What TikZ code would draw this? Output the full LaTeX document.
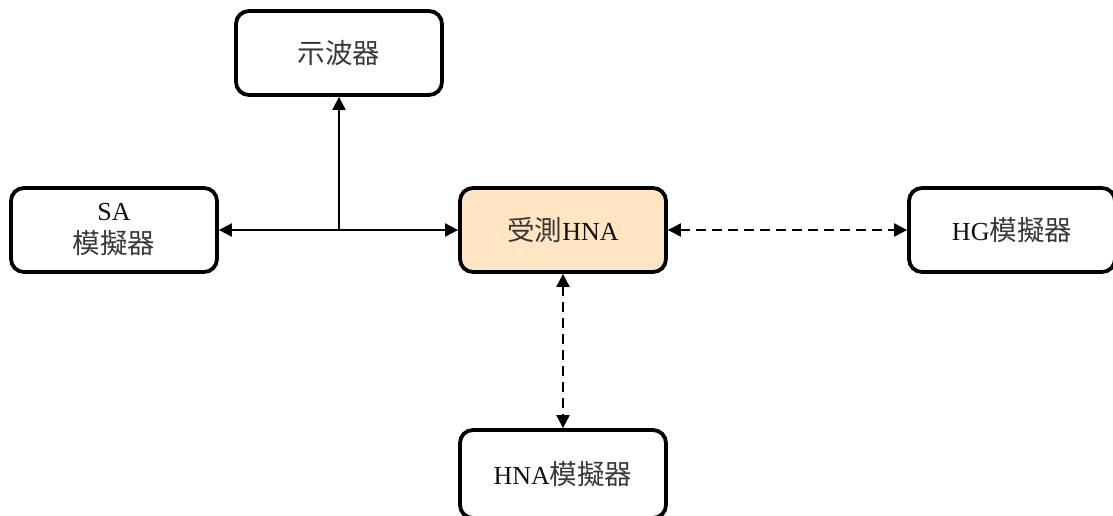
\documentclass[tikz,border=0pt]{standalone}
\usepackage{fontspec}
\setmainfont{Liberation Serif}
\newfontfamily\cjkfont{Noto Sans CJK TC}
\newcommand{\cj}[1]{{\cjkfont\fontsize{27.5}{33}\selectfont\color{cjkgray}#1}}
\usetikzlibrary{arrows.meta}
\definecolor{peach}{HTML}{FFE5C2}
\definecolor{txt}{HTML}{111111}
\definecolor{cjkgray}{HTML}{383838}
\begin{document}
\begin{tikzpicture}[x=1pt,y=-1pt,
  box/.style={draw=black,line width=3.8pt,rounded corners=13pt,fill=white,
    minimum width=206pt,minimum height=84pt,inner sep=0pt,align=center,
    font=\fontsize{26}{33}\selectfont,text=txt},
  conn/.style={line width=2pt,{Triangle[length=13pt,width=13pt]}-{Triangle[length=13pt,width=13pt]}},
  oneway/.style={line width=2pt,-{Triangle[length=13pt,width=13pt]}},
  dconn/.style={conn,dash pattern=on 10pt off 6pt}]
\useasboundingbox (0,0) rectangle (1113,515);
\node[box] (osc) at (339,53) {\cj{示波器}};
\node[box] (sa) at (114,230) {SA\\\cj{模擬器}};
\node[box,fill=peach] (dut) at (563,230) {\cj{受測}HNA};
\node[box] (hg) at (1012,230) {HG\cj{模擬器}};
\node[box,minimum height=88pt] (hnasim) at (563,474) {HNA\cj{模擬器}};
\draw[conn] (sa.east) -- (dut.west);
\coordinate (tap) at (339,230);
\draw[oneway] (tap) -- (osc.south);
\draw[dconn] (dut.east) -- (hg.west);
\draw[dconn] (dut.south) -- (hnasim.north);
\end{tikzpicture}
\end{document}
